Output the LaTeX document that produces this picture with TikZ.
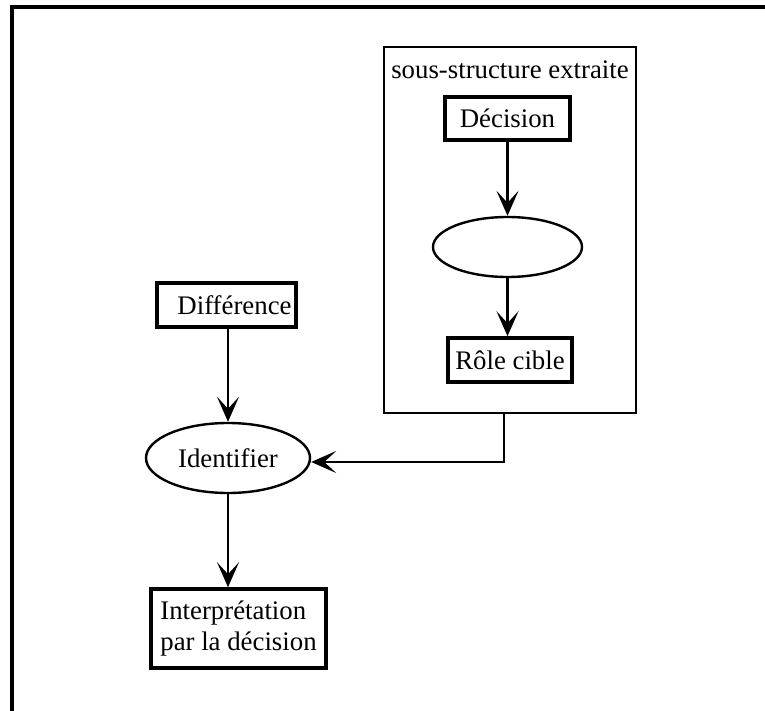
\documentclass[tikz,border=0pt]{standalone}
\usepackage{fontspec}
\setmainfont{Liberation Serif}
\usetikzlibrary{arrows.meta,shapes.geometric}

\begin{document}
\begin{tikzpicture}[x=0.5pt,y=-0.5pt,
    every node/.style={font=\fontsize{13.4pt}{15.5pt}\selectfont},
    boite/.style={draw,line width=1.8pt,inner sep=0pt},
    ovale/.style={draw,ellipse,line width=1.2pt,inner sep=0pt},
    fleche/.style={line width=1.1pt,-{Stealth[length=12.5pt,width=11pt,inset=6pt]}}]
            \useasboundingbox (0,0) rectangle (765,711);
            \draw[line width=1.6pt] (12,711) -- (12,7) -- (765,7);
            % sous-structure
            \node[draw,line width=1.1pt,minimum width=126pt,minimum height=183pt] (sub) at (510,230) {};
            \node[anchor=north,inner sep=0pt] (titre) at (510,60) {sous-structure extraite};
            \node[boite,minimum width=62.5pt,minimum height=21.5pt] (dec) at (507.5,118.5) {Décision};
            \node[ovale,minimum width=74.5pt,minimum height=30pt] (ell) at (507.5,247) {};
            \node[boite,minimum width=62pt,minimum height=22pt] (role) at (510,360) {Rôle cible};
            % partie gauche
            \node[boite,minimum width=69.5pt,minimum height=22pt] (diff) at (226.5,305) {\hspace{8pt}Différence};
            \node[ovale,minimum width=82pt,minimum height=35pt] (ident) at (228,458) {Identifier\hspace{8pt}};
            \node[boite,minimum width=87.5pt,minimum height=39.5pt,align=left] (interp) at (238.5,628.5) {Interprétation\hspace{6pt}\\par la décision\hspace{6pt}};
            \draw[fleche] (dec.south) -- (ell.north);
            \draw[fleche] (ell.south) -- (ell.south |- role.north);
            \draw[fleche] (diff.south -| ident.north) -- (ident.north);
            \draw[fleche] (ident.south) -- (ident.south |- interp.north);
            \draw[fleche] ([xshift=-3pt]sub.south) |- ([yshift=-2pt]ident.east);
          \end{tikzpicture}
\end{document}
